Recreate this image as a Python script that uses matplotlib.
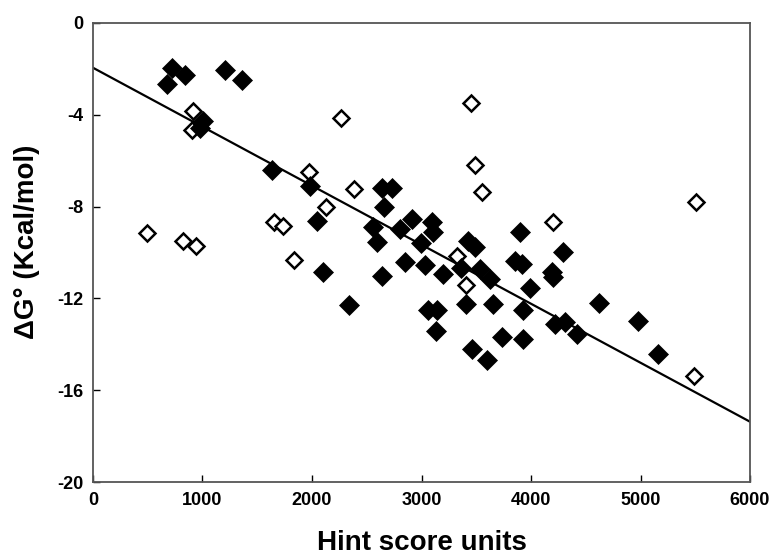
import matplotlib
matplotlib.use("Agg")
import matplotlib.pyplot as plt
import numpy as np

plt.rcParams['font.family'] = ['Liberation Sans', 'DejaVu Sans']

filled_x = [719, 840, 673, 1205, 1358, 1007, 977, 1632, 1982, 2636, 2727, 2658, 2910,
            2043, 2560, 2800, 2591, 3093, 3108, 2991, 2849, 3032, 3199, 3358, 3427, 3489,
            3534, 3626, 3900, 3854, 3915, 4289, 4189, 4204, 3991, 3063, 3139, 3406, 3656,
            3924, 4623, 4219, 4311, 4423, 4981, 3132, 3732, 3930, 3458, 3601, 5163, 2097,
            2636, 2341]
filled_y = [-1.97, -2.26, -2.65, -2.04, -2.5, -4.28, -4.57, -6.42, -7.1, -7.17, -7.17, -8.0,
            -8.52, -8.62, -8.88, -8.98, -9.56, -8.69, -9.12, -9.59, -10.43, -10.54, -10.93,
            -10.69, -9.49, -9.77, -10.72, -11.15, -9.1, -10.36, -10.5, -9.97, -10.86, -11.08,
            -11.55, -12.52, -12.52, -12.23, -12.23, -12.49, -12.19, -13.1, -13.03, -13.54,
            -12.96, -13.43, -13.68, -13.75, -14.21, -14.69, -14.4, -10.83, -11.0, -12.3]

open_x = [490, 819, 941, 910, 901, 2262, 1976, 2384, 2128, 1653, 1738, 1836, 3549, 5507,
          4204, 3321, 3406, 5489, 3449, 3489]
open_y = [-9.13, -9.49, -9.7, -3.85, -4.64, -4.14, -6.49, -7.22, -8.0, -8.66, -8.86, -10.33,
          -7.36, -7.79, -8.66, -10.17, -11.41, -15.37, -3.48, -6.2]

fit_intercept = -1.95
fit_slope = -0.00257

x_ticks = [0, 1000, 2000, 3000, 4000, 5000, 6000]
y_ticks = [0, -4, -8, -12, -16, -20]

fig = plt.figure(figsize=(7.71, 5.58), dpi=100)
ax = fig.add_axes([0.1206, 0.136, 0.8522, 0.8228])

lx = np.array([0, 6000])
ax.plot(lx, fit_intercept + fit_slope * lx, color='black', lw=1.6, zorder=1)

ax.plot(open_x, open_y, linestyle='none', marker='D', ms=8, mfc='white', mec='black',
        mew=1.8, zorder=2)
ax.plot(filled_x, filled_y, linestyle='none', marker='D', ms=9.8, mfc='black', mec='black',
        mew=0.5, zorder=3)

ax.set_xlim(0, 6000)
ax.set_ylim(-20, 0)
ax.set_xticks(x_ticks)
ax.set_yticks(y_ticks)
ax.set_xticklabels([str(v) for v in x_ticks], fontsize=13, fontweight='bold')
ax.set_yticklabels([str(v) for v in y_ticks], fontsize=13, fontweight='bold')
ax.tick_params(direction='in', length=5, width=1, colors='black')
ax.tick_params(axis='x', pad=7)
ax.tick_params(axis='y', pad=7)
for s in ax.spines.values():
    s.set_color('#555555')
    s.set_linewidth(1.3)

ax.set_xlabel('Hint score units', fontsize=20, fontweight='bold')
ax.set_ylabel('ΔG° (Kcal/mol)', fontsize=20, fontweight='bold')
ax.xaxis.set_label_coords(0.5, -0.105)
ax.yaxis.set_label_coords(-0.081, 0.523)

fig.savefig('out.png', dpi=100)
